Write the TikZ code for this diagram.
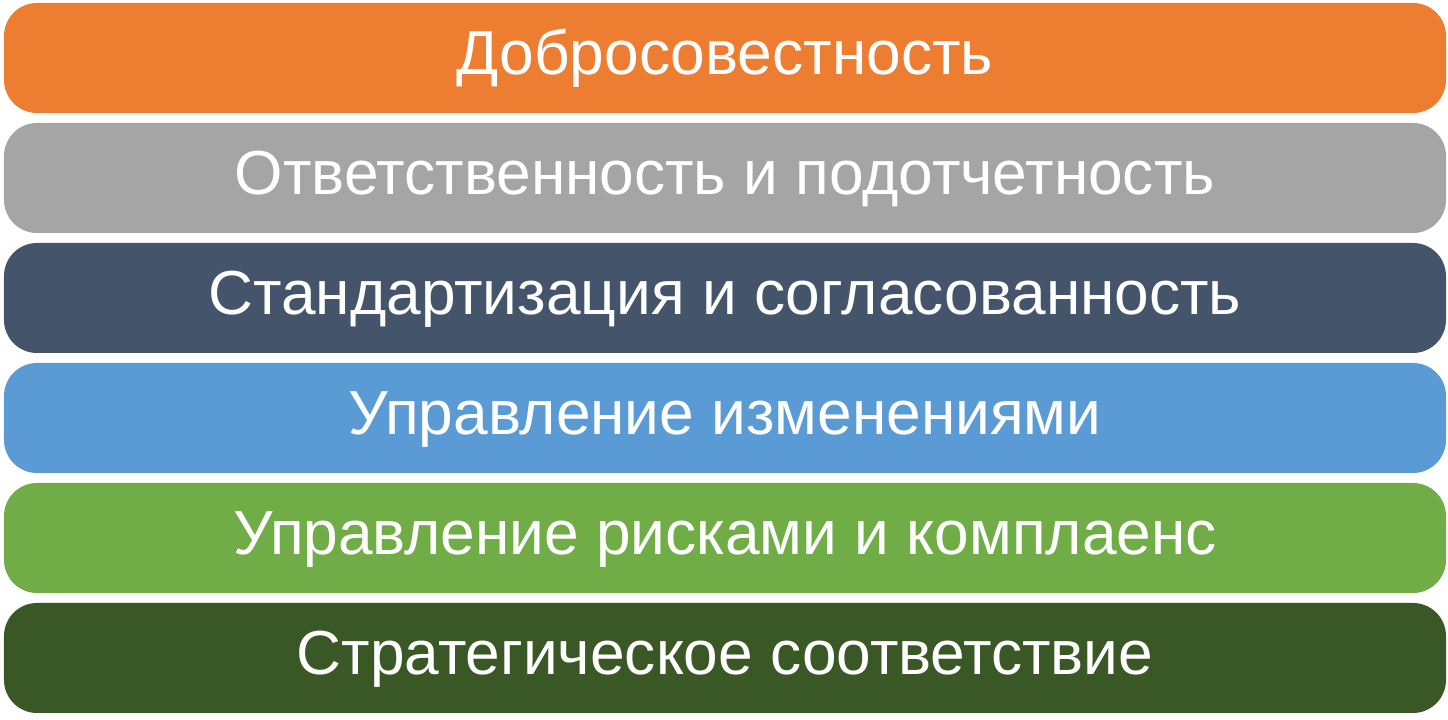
\documentclass[tikz,border=0pt]{standalone}
\usepackage{fontspec}
\setmainfont{Liberation Sans}
\definecolor{barorange}{HTML}{ED7D31}
\definecolor{bargray}{HTML}{A5A5A5}
\definecolor{barslate}{HTML}{44546A}
\definecolor{barblue}{HTML}{5B9BD5}
\definecolor{bargreen}{HTML}{70AD47}
\definecolor{bardark}{HTML}{3A5726}
\tikzset{
	bar/.style={rectangle,rounded corners=0.33cm,minimum width=14.42cm,minimum height=1.1cm,
		text=white,font=\fontsize{17.7pt}{21pt}\selectfont,text height=0.44cm,text depth=0.1cm,inner sep=0pt}
}
\begin{document}
\begin{tikzpicture}
	\useasboundingbox (0,0) rectangle (14.48,-7.2);

	\node [bar,fill=barorange](integrity) at (7.25,-0.58) {Добросовестность};
	\node [bar,fill=bargray](accountability) at (7.25,-1.78) {Ответственность и подотчетность};
	\node [bar,fill=barslate](standards) at (7.25,-2.98) {Стандартизация и согласованность};
	\node [bar,fill=barblue](change) at (7.25,-4.18) {Управление изменениями};
	\node [bar,fill=bargreen](risk) at (7.25,-5.38) {Управление рисками и комплаенс};
	\node [bar,fill=bardark](strategy) at (7.25,-6.58) {Стратегическое соответствие};
\end{tikzpicture}
\end{document}
